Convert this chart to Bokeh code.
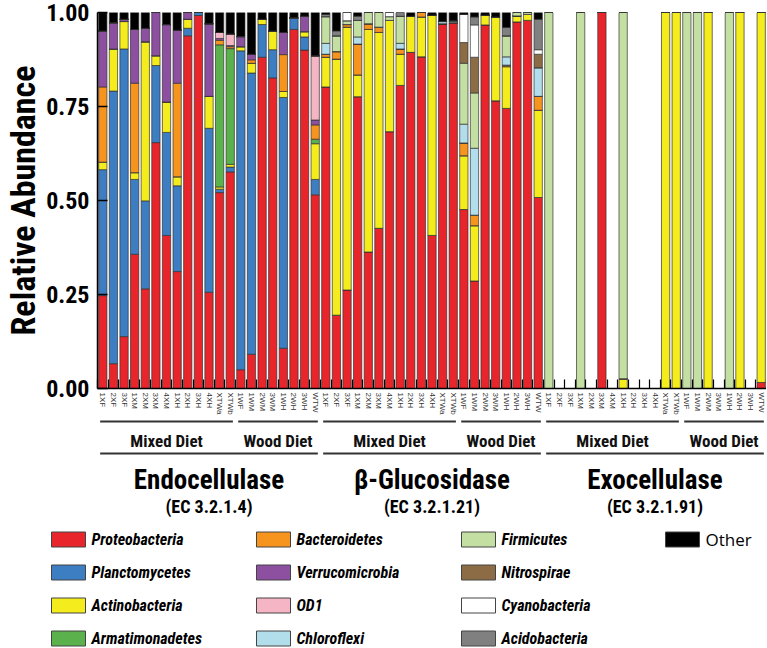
from bokeh.plotting import figure
from bokeh.models import ColumnDataSource, Range1d, FixedTicker, NumeralTickFormatter
from bokeh.layouts import column
from bokeh.embed import file_html
from bokeh.resources import INLINE
from bokeh.core.properties import value

# ---------------- data ----------------
samples = ["1XF", "2XF", "3XF", "1XM", "2XM", "3XM", "4XM", "1XH", "2XH", "3XH", "4XH",
           "XTWa", "XTWb", "1WF", "1WM", "2WM", "3WM", "1WH", "2WH", "3WH", "WTW"]
diets = ["Mixed Diet", "Wood Diet"]
diet_sizes = [13, 8]
enzymes = ["Endocellulase", "\u03b2-Glucosidase", "Exocellulase"]
ec_numbers = ["(EC 3.2.1.4)", "(EC 3.2.1.21)", "(EC 3.2.1.91)"]
phyla = ["Proteobacteria", "Planctomycetes", "Actinobacteria", "Armatimonadetes",
         "Bacteroidetes", "Verrucomicrobia", "OD1", "Chloroflexi",
         "Firmicutes", "Nitrospirae", "Cyanobacteria", "Acidobacteria", "Other"]
colors = ["#E8252A", "#3D7DC2", "#F4EC1C", "#5BB14B", "#F7941D", "#8D4F9F", "#F6B5C4",
          "#B2DDEA", "#C3DFA1", "#8C6C45", "#FFFFFF", "#808080", "#000000"]

# each list: Endocellulase (21) | beta-Glucosidase (21) | Exocellulase (21)
proteobacteria = [
    .247, .066, .138, .357, .265, .654, .407, .311, .938, .992, .256, .521, .576, .050, .091, .881, .826, .107, .955, .900, .515,
    .802, .195, .262, .776, .363, .426, .683, .806, .894, .882, .407, .970, .973, .476, .286, .967, .765, .745, .975, .979, .508,
    0, 0, 0, 0, 0, 1, 0, 0, 0, 0, 0, 0, 0, 0, 0, 0, 0, 0, 0, 0, .016]
planctomycetes = [
    .335, .725, .765, .199, .234, .205, .274, .228, .020, .008, .436, .009, .013, .848, .748, .087, .075, .667, .031, .035, .041,
    0, 0, 0, 0, 0, 0, 0, 0, 0, 0, 0, 0, 0, 0, 0, 0, 0, 0, 0, 0, 0,
    0, 0, 0, 0, 0, 0, 0, 0, 0, 0, 0, 0, 0, 0, 0, 0, 0, 0, 0, 0, 0]
actinobacteria = [
    .020, .112, .073, .018, .423, .026, .081, .024, .024, 0, .085, .006, .007, .011, .026, .014, .050, .016, 0, .014, .095,
    .079, .681, .699, .058, .592, .521, .296, .083, .096, .106, .586, 0, 0, .143, .147, .026, .223, .111, .016, .016, .232,
    0, 0, 0, 0, 0, 0, 0, .026, 0, 0, 0, 1, 1, 0, 0, 1, 0, 0, 1, 0, .984]
armatimonadetes = [
    0, 0, 0, 0, 0, 0, 0, 0, 0, 0, 0, .378, .308, 0, 0, 0, 0, 0, 0, 0, .012,
    0, 0, 0, 0, 0, 0, 0, 0, 0, 0, 0, 0, 0, 0, 0, 0, 0, 0, 0, 0, 0,
    0, 0, 0, 0, 0, 0, 0, 0, 0, 0, 0, 0, 0, 0, 0, 0, 0, 0, 0, 0, 0]
bacteroidetes = [
    .200, 0, 0, .238, 0, 0, 0, .249, 0, 0, 0, .012, .005, 0, .009, 0, 0, .098, 0, 0, .038,
    .008, .020, .007, .082, .015, .014, 0, .014, 0, .012, 0, 0, 0, .034, .028, 0, 0, .004, 0, 0, .037,
    0, 0, 0, 0, 0, 0, 0, 0, 0, 0, 0, 0, 0, 0, 0, 0, 0, 0, 0, 0, 0]
verrucomicrobia = [
    .149, .070, .006, .143, .036, .115, .206, .141, .018, 0, .193, .005, .003, .027, .015, 0, 0, .059, 0, .041, .013,
    0, 0, 0, 0, 0, 0, 0, 0, 0, 0, 0, 0, 0, 0, 0, 0, 0, 0, 0, 0, 0,
    0, 0, 0, 0, 0, 0, 0, 0, 0, 0, 0, 0, 0, 0, 0, 0, 0, 0, 0, 0, 0]
od1 = [
    0, 0, 0, 0, 0, 0, 0, 0, 0, 0, 0, .016, .031, 0, 0, 0, 0, 0, 0, 0, .171,
    0, 0, 0, 0, 0, 0, 0, 0, 0, 0, 0, 0, 0, 0, 0, 0, 0, 0, 0, 0, 0,
    0, 0, 0, 0, 0, 0, 0, 0, 0, 0, 0, 0, 0, 0, 0, 0, 0, 0, 0, 0, 0]
chloroflexi = [
    0, 0, 0, 0, 0, 0, 0, 0, 0, 0, 0, 0, 0, 0, 0, 0, 0, 0, 0, 0, 0,
    .029, 0, 0, .019, 0, 0, 0, .015, 0, 0, 0, .006, .005, .050, .178, 0, 0, .022, 0, 0, .076,
    0, 0, 0, 0, 0, 0, 0, 0, 0, 0, 0, 0, 0, 0, 0, 0, 0, 0, 0, 0, 0]
firmicutes = [
    0, 0, 0, 0, 0, 0, 0, 0, 0, 0, 0, 0, 0, 0, 0, 0, 0, 0, 0, 0, 0,
    .071, .042, .010, .044, .030, .039, .010, .072, 0, 0, 0, 0, 0, .162, .147, 0, 0, .056, .009, .005, 0,
    1, 0, 0, 1, 0, 0, 0, .974, 0, 0, 0, 0, 0, 1, 1, 0, 0, 1, 0, 0, 0]
nitrospirae = [
    0, 0, 0, 0, 0, 0, 0, 0, 0, 0, 0, 0, 0, 0, 0, 0, 0, 0, 0, 0, 0,
    0, 0, 0, 0, 0, 0, 0, 0, 0, 0, 0, 0, 0, .055, .095, 0, 0, 0, 0, 0, .036,
    0, 0, 0, 0, 0, 0, 0, 0, 0, 0, 0, 0, 0, 0, 0, 0, 0, 0, 0, 0, 0]
cyanobacteria = [
    0, 0, 0, 0, 0, 0, 0, 0, 0, 0, 0, 0, 0, 0, 0, 0, 0, 0, 0, 0, 0,
    0, 0, .022, 0, 0, 0, .011, 0, 0, 0, 0, 0, 0, .075, .086, 0, 0, 0, 0, 0, .012,
    0, 0, 0, 0, 0, 0, 0, 0, 0, 0, 0, 0, 0, 0, 0, 0, 0, 0, 0, 0, 0]
acidobacteria = [
    0, 0, 0, 0, 0, 0, 0, 0, 0, 0, 0, 0, 0, 0, 0, 0, 0, 0, 0, 0, 0,
    .006, .013, 0, .011, 0, 0, 0, .010, 0, 0, 0, 0, 0, 0, .021, 0, 0, .022, 0, 0, .081,
    0, 0, 0, 0, 0, 0, 0, 0, 0, 0, 0, 0, 0, 0, 0, 0, 0, 0, 0, 0, 0]
other = [
    .049, .027, .018, .045, .042, 0, .032, .047, 0, 0, .030, .053, .057, .064, .111, .018, .049, .053, .014, .010, .115,
    .005, .049, 0, .010, 0, 0, 0, 0, .010, 0, .007, .024, .022, .005, .012, .007, .012, .040, 0, 0, .018,
    0, 0, 0, 0, 0, 0, 0, 0, 0, 0, 0, 0, 0, 0, 0, 0, 0, 0, 0, 0, 0]

y_ticks = [0, 0.25, 0.5, 0.75, 1.0]

# ---------------- build ----------------
FONT = "Roboto Condensed"
series = [proteobacteria, planctomycetes, actinobacteria, armatimonadetes, bacteroidetes,
          verrucomicrobia, od1, chloroflexi, firmicutes, nitrospirae, cyanobacteria,
          acidobacteria, other]
n_per = len(samples)
n_bars = n_per * len(enzymes)
centers = [i + 0.5 for i in range(n_bars)]
labels = samples * len(enzymes)

data = {"x": centers}
for name, vals in zip(phyla, series):
    data[name] = vals
src = ColumnDataSource(data)

W = 766
LEFT = 97
x_range = Range1d(0, n_bars)

p = figure(width=W, height=418, x_range=x_range, y_range=Range1d(0, 1),
           output_backend="svg", toolbar_location=None,
           min_border_left=LEFT, min_border_right=0, min_border_top=12, min_border_bottom=30)
p.outline_line_color = None
p.grid.visible = False
p.background_fill_color = "white"
p.border_fill_color = "white"

p.vbar_stack(phyla, x="x", width=0.78, color=colors, source=src,
             line_color="#333333", line_width=0.7)

xa = p.xaxis[0]
xa.ticker = FixedTicker(ticks=centers, minor_ticks=list(range(n_bars + 1)))
xa.major_label_overrides = {c: l for c, l in zip(centers, labels)}
xa.major_label_orientation = "vertical"
xa.major_label_text_font = "Liberation Sans"
xa.major_label_text_font_size = "8px"
xa.major_label_text_color = "#333333"
xa.major_label_standoff = 4
xa.major_tick_in = 0
xa.major_tick_out = 0
xa.minor_tick_in = 9
xa.minor_tick_out = 0
xa.minor_tick_line_color = "black"
xa.minor_tick_line_width = 1.2
xa.axis_line_color = "black"
xa.axis_line_width = 1.5

ya = p.yaxis[0]
ya.ticker = FixedTicker(ticks=y_ticks)
ya.formatter = NumeralTickFormatter(format="0.00")
ya.major_label_text_font = FONT
ya.major_label_text_font_style = "bold"
ya.major_label_text_font_size = "24px"
ya.major_label_text_color = "black"
ya.major_label_standoff = 8
ya.major_tick_in = 10
ya.major_tick_out = 0
ya.major_tick_line_width = 1.5
ya.minor_tick_line_color = None
ya.axis_line_color = "black"
ya.axis_line_width = 1.5
ya.axis_label = "Relative Abundance"
ya.axis_label_text_font = FONT
ya.axis_label_text_font_style = "bold"
ya.axis_label_text_font_size = "34px"
ya.axis_label_text_color = "black"
ya.axis_label_standoff = 0

# ---------- group brackets & enzyme names ----------
H2 = 100
p2 = figure(width=W, height=H2, x_range=x_range, y_range=Range1d(H2, 0),
            output_backend="svg", toolbar_location=None,
            x_axis_location=None, y_axis_location=None,
            min_border_left=LEFT, min_border_right=0, min_border_top=0, min_border_bottom=0)
p2.outline_line_color = None
p2.grid.visible = False

seg_x0, seg_x1, diet_x, diet_txt = [], [], [], []
enz_x0, enz_x1, enz_x = [], [], []
for e in range(len(enzymes)):
    base = e * n_per
    start = base
    for d, size in zip(diets, diet_sizes):
        seg_x0.append(start + 0.25)
        seg_x1.append(start + size - 0.25)
        diet_x.append(start + size / 2)
        diet_txt.append(d)
        start += size
    enz_x0.append(base + 0.25)
    enz_x1.append(base + n_per - 0.25)
    enz_x.append(base + n_per / 2)

LINE1_Y, DIET_Y, LINE2_Y, ENZ_Y, EC_Y = 3, 22.5, 35, 61, 88
p2.segment(x0=seg_x0, x1=seg_x1, y0=[LINE1_Y] * len(seg_x0), y1=[LINE1_Y] * len(seg_x0),
           line_color="#333333", line_width=2.2)
p2.segment(x0=enz_x0, x1=enz_x1, y0=[LINE2_Y] * len(enz_x0), y1=[LINE2_Y] * len(enz_x0),
           line_color="#333333", line_width=2.2)
p2.text(x=diet_x, y=[DIET_Y] * len(diet_x), text=diet_txt, text_align="center",
        text_baseline="middle", text_font=value(FONT), text_font_style=value("bold"),
        text_font_size=value("17px"), text_color="#111111")
p2.text(x=enz_x, y=[ENZ_Y] * len(enz_x), text=enzymes, text_align="center",
        text_baseline="middle", text_font=value(FONT), text_font_style=value("bold"),
        text_font_size=value("27px"), text_color="black")
p2.text(x=enz_x, y=[EC_Y] * len(enz_x), text=ec_numbers, text_align="center",
        text_baseline="middle", text_font=value(FONT), text_font_style=value("bold"),
        text_font_size=value("18px"), text_color="black")

# ---------- legend ----------
H3 = 130
p3 = figure(width=W, height=H3, x_range=Range1d(0, W), y_range=Range1d(H3, 0),
            output_backend="svg", toolbar_location=None,
            x_axis_location=None, y_axis_location=None,
            min_border_left=0, min_border_right=0, min_border_top=0, min_border_bottom=0)
if "frame_align" in p3.properties():
    p3.frame_align = False
p3.outline_line_color = None
p3.grid.visible = False

COL_X = [51, 256, 461, 665]
ROW_Y0, ROW_DY, ROWS = 21, 33, 4
SW_W, SW_H, TXT_DX = 34, 15, 40
sx, sy = [], []
for k in range(len(phyla)):
    sx.append(COL_X[k // ROWS] + SW_W / 2)
    sy.append(ROW_Y0 + (k % ROWS) * ROW_DY)
p3.rect(x=sx, y=sy, width=SW_W, height=SW_H, fill_color=colors,
        line_color="#444444", line_width=1)
tx = [x - SW_W / 2 + TXT_DX for x in sx]
p3.text(x=tx[:-1], y=sy[:-1], text=phyla[:-1], text_align="left", text_baseline="middle",
        text_font=value(FONT), text_font_style=value("bold italic"),
        text_font_size=value("16px"), text_color="black")
p3.text(x=tx[-1:], y=sy[-1:], text=phyla[-1:], text_align="left", text_baseline="middle",
        text_font=value("Open Sans"), text_font_style=value("normal"),
        text_font_size=value("17px"), text_color="black")

layout = column(p, p2, p3, spacing=0)
open("out.html", "w").write(file_html(layout, INLINE))
